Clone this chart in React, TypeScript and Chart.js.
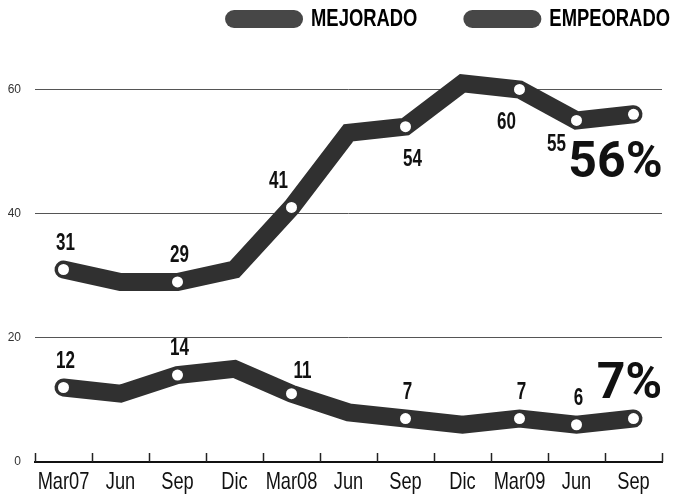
import React, { useEffect, useRef } from 'react';
import { Chart, registerables } from 'chart.js';
Chart.register(...registerables);

const CATEGORIES = ['Mar07', 'Jun', 'Sep', 'Dic', 'Mar08', 'Jun', 'Sep', 'Dic', 'Mar09', 'Jun', 'Sep'];
const SERIES_NAMES = ['MEJORADO', 'EMPEORADO'];
const MEJORADO = [31, 29, 29, 31, 41, 53, 54, 61, 60, 55, 56];
const EMPEORADO = [12, 11, 14, 15, 11, 8, 7, 6, 7, 6, 7];
const MEJORADO_MARKED = [1, 0, 1, 0, 1, 0, 1, 0, 1, 1, 1];
const EMPEORADO_MARKED = [1, 0, 1, 0, 1, 0, 1, 0, 1, 1, 1];
const Y_TICKS = [0, 20, 40, 60];

// label placement (style only)
const MEJORADO_LABEL_SIDE = ['above', '', 'above', '', 'aboveLeft', '', 'belowRight', '', 'belowLeft', 'left', 'bigBelow'];
const EMPEORADO_LABEL_SIDE = ['above', '', 'above', '', 'aboveRight', '', 'above', '', 'above', 'above', 'bigAbove'];

const SANS = '"Liberation Sans", Arial, sans-serif';
const BIG = 'Roboto, "Liberation Sans", sans-serif';
const LINE_COLOR = '#303030';
const PILL_COLOR = '#474747';

const OFFSETS: Record<string, [number, number]> = {
  above: [2, -26],
  aboveLeft: [-13, -26],
  aboveRight: [11, -22],
  belowRight: [7, 33],
  belowLeft: [-13, 33],
  left: [-20, 24],
  bigBelow: [-18, 50],
  bigAbove: [-4, -33],
};

function condensedText(ctx: any, text: string, x: number, y: number, font: string, sx: number, align = 'center') {
  ctx.save();
  ctx.font = font;
  ctx.textBaseline = 'middle';
  ctx.textAlign = align;
  ctx.translate(x, y);
  ctx.scale(sx, 1);
  ctx.fillText(text, 0, 0);
  ctx.restore();
}

const labelPlugin = {
  id: 'pointLabels',
  afterDatasetsDraw(chart: any) {
    const ctx = chart.ctx;
    const sides = [MEJORADO_LABEL_SIDE, EMPEORADO_LABEL_SIDE];
    chart.data.datasets.forEach((ds: any, di: number) => {
      const meta = chart.getDatasetMeta(di);
      meta.data.forEach((pt: any, i: number) => {
        const side = sides[di][i];
        if (!side) return;
        const [dx, dy] = OFFSETS[side];
        const big = side.startsWith('big');
        ctx.save();
        ctx.fillStyle = '#111';
        if (big) {
          ctx.font = `bold 50px ${BIG}`;
          ctx.textAlign = 'center';
          ctx.textBaseline = 'middle';
          ctx.fillText(`${ds.data[i]}%`, pt.x + dx, pt.y + dy);
        } else {
          condensedText(ctx, String(ds.data[i]), pt.x + dx, pt.y + dy, `bold 23px ${SANS}`, 0.74);
        }
        ctx.restore();
      });
    });
  },
};

const axisPlugin = {
  id: 'xAxisDecor',
  afterDraw(chart: any) {
    const x = chart.scales.x;
    const ctx = chart.ctx;
    const n = CATEGORIES.length;
    const step = x.getPixelForValue(1) - x.getPixelForValue(0);
    const bottom = chart.chartArea.bottom;
    ctx.save();
    ctx.strokeStyle = '#222';
    ctx.lineWidth = 1.5;
    for (let i = 0; i <= n; i++) {
      const px = Math.round(x.getPixelForValue(i) - step / 2) + 0.5;
      ctx.beginPath();
      ctx.moveTo(px, bottom);
      ctx.lineTo(px, bottom - 9);
      ctx.stroke();
    }
    ctx.fillStyle = '#111';
    chart.data.labels.forEach((lab: string, i: number) => {
      condensedText(ctx, lab, x.getPixelForValue(i), bottom + 20, `24px ${SANS}`, 0.76);
    });
    ctx.restore();
  },
};

const legendPlugin = {
  id: 'pillLegend',
  afterDraw(chart: any) {
    const ctx = chart.ctx;
    const sx = 0.8;
    const font = `bold 23px ${SANS}`;
    const cy = 19;
    let xr = chart.width - 4;
    ctx.save();
    ctx.font = font;
    const ds = chart.data.datasets;
    for (let i = ds.length - 1; i >= 0; i--) {
      const name = ds[i].label;
      const w = ctx.measureText(name).width * sx;
      const tx = xr - w;
      ctx.fillStyle = '#000';
      condensedText(ctx, name, tx, cy + 1, font, sx, 'left');
      const px = tx - 8 - 78;
      ctx.fillStyle = PILL_COLOR;
      ctx.beginPath();
      ctx.roundRect(px, cy - 9, 78, 18, 9);
      ctx.fill();
      xr = px - 46;
    }
    ctx.restore();
  },
};

export default function App() {
  const ref = useRef<HTMLCanvasElement>(null);
  useEffect(() => {
    document.body.style.margin = '0';
    const mk = (arr: number[]) => arr.map((m) => (m ? 5.5 : 0));
    const base = {
      borderColor: LINE_COLOR,
      backgroundColor: LINE_COLOR,
      borderWidth: 18,
      borderJoinStyle: 'miter',
      borderCapStyle: 'round',
      tension: 0,
      pointBackgroundColor: '#fff',
      pointBorderWidth: 0,
      clip: false,
    };
    const chart = new Chart(ref.current as HTMLCanvasElement, {
      type: 'line',
      data: {
        labels: CATEGORIES,
        datasets: [
          { ...base, label: SERIES_NAMES[0], data: MEJORADO, pointRadius: mk(MEJORADO_MARKED) } as any,
          { ...base, label: SERIES_NAMES[1], data: EMPEORADO, pointRadius: mk(EMPEORADO_MARKED) } as any,
        ],
      },
      options: {
        responsive: false,
        animation: false,
        devicePixelRatio: 1,
        layout: { padding: { top: 41, right: 12, left: 0, bottom: 0 } },
        plugins: {
          tooltip: { enabled: false },
          legend: { display: false },
        },
        scales: {
          x: {
            type: 'category',
            offset: true,
            grid: { display: false, drawTicks: false },
            border: { display: true, color: '#111', width: 2 },
            ticks: { display: false },
            afterFit: (s: any) => {
              s.height = 41;
            },
          },
          y: {
            min: 0,
            max: 67.8,
            afterBuildTicks: (s: any) => {
              s.ticks = Y_TICKS.map((v) => ({ value: v }));
            },
            grid: {
              drawTicks: false,
              lineWidth: 1,
              color: (c: any) => (c.tick && c.tick.value === 0 ? 'rgba(0,0,0,0)' : '#555'),
            },
            border: { display: false },
            ticks: { color: '#333', padding: 14, font: { family: SANS, size: 12 } },
            afterFit: (s: any) => {
              s.width = 35;
            },
          },
        },
      } as any,
      plugins: [labelPlugin, axisPlugin, legendPlugin],
    });
    return () => chart.destroy();
  }, []);
  return (
    <div style={{ width: 674, height: 503, background: '#fff' }}>
      <canvas ref={ref} width={674} height={503} style={{ display: 'block' }} />
    </div>
  );
}
